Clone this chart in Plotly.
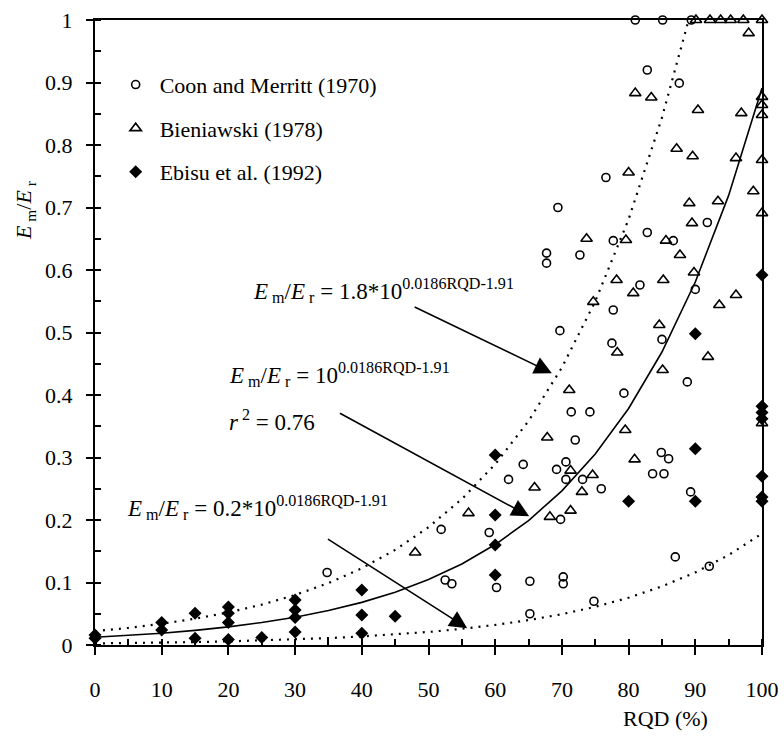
import plotly.graph_objects as go

# ---- data ----
coon_x = [81, 85.1, 89.4, 82.8, 87.6, 76.6, 69.4, 91.8, 82.8, 77.7, 86.7,
          67.7, 67.7, 72.7, 81.7, 77.7, 69.7, 85, 77.5, 90, 88.8, 79.3,
          71.4, 74.2, 72, 84.9, 86, 64.2, 70.6, 69.2, 62, 70.6, 73.1, 75.9,
          83.6, 85.3, 89.3, 69.8, 51.9, 59.1, 87, 92.1, 52.5, 53.5, 60.2,
          65.2, 70.2, 70.2, 74.8, 65.2, 34.8]
coon_y = [1.0, 1.0, 1.0, 0.92, 0.899, 0.748, 0.70, 0.676, 0.66, 0.647, 0.647,
          0.627, 0.611, 0.624, 0.576, 0.536, 0.503, 0.489, 0.483, 0.569, 0.421, 0.403,
          0.373, 0.373, 0.328, 0.308, 0.298, 0.289, 0.293, 0.281, 0.265, 0.265, 0.265, 0.25,
          0.274, 0.274, 0.245, 0.201, 0.185, 0.18, 0.141, 0.126, 0.104, 0.098, 0.092,
          0.102, 0.109, 0.098, 0.07, 0.05, 0.116]

bien_x = [90.1, 92.2, 93.8, 95.3, 97.2, 100, 98, 81, 83.4, 100, 100, 100, 100, 100,
          90.4, 96.9, 87.2, 89.6, 96.1, 80, 98.7, 89.1, 93.4, 89.5, 73.7, 79.6, 85.6,
          87.7, 78.2, 80.7, 85.2, 89.8, 93.6, 96.1, 74.7, 84.6, 78.3, 91.9, 85.1, 71.1,
          79.5, 67.8, 80.9, 71.3, 74.6, 73, 65.9, 56, 68.2, 71.3, 48, 100]
bien_y = [1.0, 1.0, 1.0, 1.0, 1.0, 1.0, 0.979, 0.883, 0.876, 0.877, 0.864, 0.848, 0.776, 0.691,
          0.856, 0.851, 0.794, 0.782, 0.779, 0.756, 0.726, 0.707, 0.71, 0.675, 0.65, 0.648, 0.647,
          0.624, 0.584, 0.563, 0.584, 0.596, 0.544, 0.56, 0.549, 0.512, 0.468, 0.461, 0.44, 0.408,
          0.344, 0.332, 0.297, 0.279, 0.272, 0.245, 0.252, 0.211, 0.205, 0.215, 0.148, 0.355]

ebisu_x = [0, 0, 10, 10, 15, 15, 20, 20, 20, 20, 25, 30, 30, 30, 30, 40, 40, 40, 45,
           60, 60, 60, 60, 80, 90, 90, 90, 100, 100, 100, 100, 100, 100, 100]
ebisu_y = [0.016, 0.011, 0.036, 0.024, 0.051, 0.011, 0.061, 0.051, 0.036, 0.009, 0.012,
           0.072, 0.056, 0.044, 0.021, 0.088, 0.048, 0.019, 0.046,
           0.304, 0.208, 0.16, 0.112, 0.23, 0.498, 0.314, 0.23,
           0.592, 0.382, 0.372, 0.362, 0.27, 0.237, 0.23]

# fitted curves, values
curve_rqd = [0, 5, 10, 15, 20, 25, 30, 35, 40, 45, 50, 55, 60, 65, 70, 75, 80, 85, 90, 95, 100]
mean_curve = [0.0123, 0.0152, 0.0189, 0.0234, 0.029, 0.0359, 0.0445, 0.0551, 0.0682, 0.0845,
              0.1047, 0.1297, 0.1607, 0.1991, 0.2466, 0.3055, 0.3784, 0.4688, 0.5808, 0.7194, 0.8913]
upper_rqd = [0, 5, 10, 15, 20, 25, 30, 35, 40, 45, 50, 55, 60, 65, 70, 75, 80, 85, 89]
upper_curve = [0.0221, 0.0274, 0.034, 0.0421, 0.0521, 0.0646, 0.08, 0.0991, 0.1228, 0.1522,
               0.1885, 0.2335, 0.2893, 0.3584, 0.4439, 0.5499, 0.6811, 0.8438, 1.0]
lower_curve = [0.0025, 0.003, 0.0038, 0.0047, 0.0058, 0.0072, 0.0089, 0.011, 0.0137, 0.0169,
               0.0209, 0.0259, 0.0321, 0.0398, 0.0493, 0.0611, 0.0757, 0.0938, 0.1162, 0.1439, 0.1783]

FONT = "Liberation Serif"

fig = go.Figure()

fig.add_trace(go.Scatter(x=curve_rqd, y=mean_curve, mode="lines",
                         line=dict(color="black", width=1.6), showlegend=False, hoverinfo="skip"))
fig.add_trace(go.Scatter(x=upper_rqd, y=upper_curve, mode="lines",
                         line=dict(color="black", width=2.2, dash="2px,6px"), showlegend=False, hoverinfo="skip"))
fig.add_trace(go.Scatter(x=curve_rqd, y=lower_curve, mode="lines",
                         line=dict(color="black", width=2.2, dash="2px,6px"), showlegend=False, hoverinfo="skip"))

fig.add_trace(go.Scatter(x=coon_x, y=coon_y, mode="markers", name="Coon and Merritt (1970)",
                         legendgroup="a", cliponaxis=False,
                         marker=dict(symbol="circle-open", size=8, color="black", line=dict(width=1.6))))
fig.add_trace(go.Scatter(x=bien_x, y=bien_y, mode="markers", name="Bieniawski (1978)",
                         legendgroup="b", cliponaxis=False,
                         marker=dict(symbol="triangle-up-open", size=10, color="black", line=dict(width=1.6))))
fig.add_trace(go.Scatter(x=ebisu_x, y=ebisu_y, mode="markers", name="Ebisu et al. (1992)",
                         legendgroup="c", cliponaxis=False,
                         marker=dict(symbol="diamond", size=10, color="black", line=dict(width=0))))

EQ = "<i>E</i><sub> m</sub>/<i>E</i><sub> r</sub> = "
SUP = "<sup>0.0186RQD-1.91</sup>"
texts = [
    (EQ + "1.8*10" + SUP, 251, 290),
    (EQ + "10" + SUP, 227, 374),
    ("<i>r</i><sup> 2</sup> = 0.76", 227, 420),
    (EQ + "0.2*10" + SUP, 125, 507),
]
for t, px, py in texts:
    fig.add_annotation(text=t, xref="paper", yref="paper",
                       x=(px - 95) / 667, y=(645 - py) / 625,
                       xanchor="left", yanchor="middle", showarrow=False,
                       font=dict(family=FONT, size=23, color="black"))

arrows = [((47.7, 0.542), (68.5, 0.435)),
          ((36.5, 0.372), (65.1, 0.206)),
          ((34.7, 0.171), (55.8, 0.027))]
for (tx, ty), (hx, hy) in arrows:
    fig.add_annotation(x=hx, y=hy, ax=tx, ay=ty, xref="x", yref="y", axref="x", ayref="y",
                       text="", showarrow=True, arrowhead=2, arrowsize=2.2, arrowwidth=1.6,
                       arrowcolor="black")

fig.add_annotation(text="<i>E</i><sub> m</sub>/<i>E</i><sub> r</sub>", xref="paper", yref="paper",
                   x=(25 - 95) / 667, y=(645 - 211) / 625, textangle=-90, showarrow=False,
                   xanchor="center", yanchor="middle", font=dict(family=FONT, size=22, color="black"))
fig.add_annotation(text="RQD (%)", xref="paper", yref="paper",
                   x=(665 - 95) / 667, y=(645 - 718) / 625, showarrow=False,
                   xanchor="center", yanchor="middle", font=dict(family=FONT, size=22, color="black"))

axis_common = dict(showgrid=False, zeroline=False, color="black", linecolor="black", automargin=False)
fig.update_layout(
    width=784, height=737,
    margin=dict(l=95, r=22, t=20, b=92),
    paper_bgcolor="white", plot_bgcolor="white",
    font=dict(family=FONT, size=22, color="black"),
    xaxis=dict(range=[0, 100], tickvals=[0, 10, 20, 30, 40, 50, 60, 70, 80, 90, 100],
               ticks="outside", ticklen=8, tickwidth=1.6, showline=True, linewidth=2, mirror=True,
               ticklabelstandoff=16, tickfont=dict(size=22),
               minor=dict(dtick=5, tick0=0, ticks="inside", ticklen=6, tickwidth=1.6, tickcolor="black"),
               **axis_common),
    yaxis=dict(range=[0, 1], tickvals=[0, 0.1, 0.2, 0.3, 0.4, 0.5, 0.6, 0.7, 0.8, 0.9, 1],
               ticks="outside", ticklen=7, tickwidth=1.6, showline=True, linewidth=2, mirror=True,
               ticklabelstandoff=9, tickfont=dict(size=22),
               minor=dict(dtick=0.05, tick0=0, ticks="inside", ticklen=6, tickwidth=1.6, tickcolor="black"),
               **axis_common),
    legend=dict(x=0.025, y=0.93, xanchor="left", yanchor="top", bgcolor="rgba(0,0,0,0)",
                font=dict(family=FONT, size=22), tracegroupgap=12, traceorder="grouped",
                itemwidth=38),
)

fig.write_html("out.html")
